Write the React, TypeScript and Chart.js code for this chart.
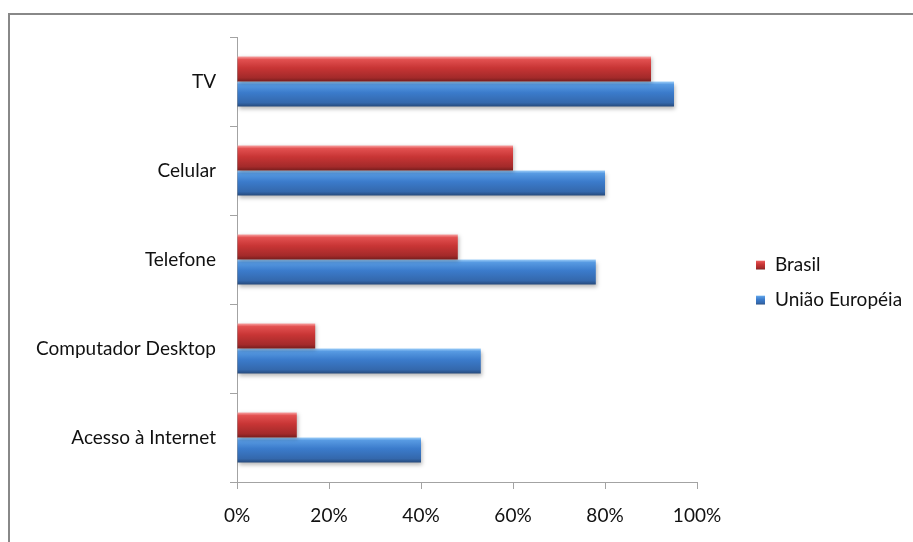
import React, { useEffect, useRef } from "react";
import { Chart, registerables } from "chart.js";

Chart.register(...registerables);

const categories = ["TV", "Celular", "Telefone", "Computador Desktop", "Acesso à Internet"];
const seriesNames = ["Brasil", "União Européia"];
const brasil = [90, 60, 48, 17, 13];
const uniaoEuropeia = [95, 80, 78, 53, 40];
const xTickValues = [0, 20, 40, 60, 80, 100];

const CAT_PCT = 0.56;
const FONT = "Lato, 'Open Sans', sans-serif";
const TEXT = "#111111";
const AXIS = "#a3a3a3";

// [top highlight, upper, middle, lower, bottom edge]
const palettes = [
  ["#f8a0a0", "#e25050", "#c83535", "#a32a2a", "#761d1d"],
  ["#9ccdf8", "#579ae2", "#3b7bcb", "#3468ac", "#264a7c"],
];

function makeGradient(g: CanvasGradient, p: string[]) {
  g.addColorStop(0, p[0]);
  g.addColorStop(0.12, p[1]);
  g.addColorStop(0.45, p[2]);
  g.addColorStop(0.85, p[3]);
  g.addColorStop(1, p[4]);
  return g;
}

function barFill(dsIndex: number) {
  return (ctx: any) => {
    const chart = ctx.chart;
    const y = chart.scales && chart.scales.y;
    if (!y || ctx.type !== "data") return palettes[dsIndex][2];
    const center = y.getPixelForValue(ctx.dataIndex);
    const band = Math.abs(y.getPixelForValue(1) - y.getPixelForValue(0));
    if (!isFinite(center) || !isFinite(band) || band <= 0) return palettes[dsIndex][2];
    const thick = (band * CAT_PCT) / 2;
    const top = center - (band * CAT_PCT) / 2 + dsIndex * thick;
    const g = chart.ctx.createLinearGradient(0, top, 0, top + thick);
    return makeGradient(g, palettes[dsIndex]);
  };
}

const shadowPlugin = {
  id: "barShadow",
  beforeDatasetDraw(chart: any, args: any) {
    const c = chart.ctx;
    c.save();
    c.shadowColor = "rgba(0,0,0,0.28)";
    c.shadowBlur = 4;
    c.shadowOffsetY = args.index === 1 ? 3 : 1;
    c.shadowOffsetX = 1;
  },
  afterDatasetDraw(chart: any) {
    chart.ctx.restore();
  },
};

const legendPlugin = {
  id: "customLegend",
  afterDraw(chart: any) {
    const c = chart.ctx;
    const x = 756;
    const ys = [265, 300];
    c.save();
    chart.data.datasets.forEach((ds: any, i: number) => {
      const cy = ys[i];
      const g = c.createLinearGradient(0, cy - 4.5, 0, cy + 4.5);
      c.fillStyle = makeGradient(g, palettes[i]);
      c.fillRect(x, cy - 4.5, 9, 9);
      c.fillStyle = TEXT;
      c.font = `19px ${FONT}`;
      c.textBaseline = "middle";
      c.textAlign = "left";
      c.fillText(ds.label, x + 19, cy);
    });
    c.restore();
  },
};

export default function App() {
  const ref = useRef<HTMLCanvasElement>(null);

  useEffect(() => {
    if (!ref.current) return;
    const chart = new Chart(ref.current, {
      type: "bar",
      data: {
        labels: categories,
        datasets: [
          {
            label: seriesNames[0],
            data: brasil,
            backgroundColor: barFill(0),
            categoryPercentage: CAT_PCT,
            barPercentage: 1,
          },
          {
            label: seriesNames[1],
            data: uniaoEuropeia,
            backgroundColor: barFill(1),
            categoryPercentage: CAT_PCT,
            barPercentage: 1,
          },
        ],
      },
      options: {
        indexAxis: "y",
        responsive: false,
        animation: false,
        layout: { padding: { top: 37, right: 216, left: 0, bottom: 0 } },
        plugins: {
          legend: { display: false },
          tooltip: { enabled: false },
        },
        scales: {
          x: {
            min: 0,
            max: 100,
            afterBuildTicks: (scale: any) => {
              scale.ticks = xTickValues.map((v) => ({ value: v }));
            },
            afterFit: (scale: any) => {
              scale.height = 60;
            },
            grid: {
              drawOnChartArea: false,
              drawTicks: true,
              tickLength: 7,
              color: AXIS,
            },
            border: { color: AXIS, width: 1 },
            ticks: {
              padding: 15,
              color: TEXT,
              font: { family: FONT, size: 19 },
              callback: (v: any) => `${v}%`,
              maxRotation: 0,
            },
          },
          y: {
            afterFit: (scale: any) => {
              scale.width = 237;
            },
            grid: {
              drawOnChartArea: false,
              drawTicks: true,
              tickLength: 7,
              color: AXIS,
              offset: true,
            },
            border: { color: AXIS, width: 1 },
            ticks: {
              padding: 14,
              color: TEXT,
              font: { family: FONT, size: 19 },
            },
          },
        },
      },
      plugins: [shadowPlugin, legendPlugin],
    });
    chart.update();
    return () => chart.destroy();
  }, []);

  return (
    <div style={{ position: "fixed", left: 0, top: 0, width: 913, height: 542, background: "#fff" }}>
      <div
        style={{
          position: "absolute",
          left: 8,
          top: 13,
          width: 905,
          height: 529,
          borderTop: "2px solid #888",
          borderLeft: "2px solid #888",
          boxSizing: "border-box",
        }}
      />
      <canvas ref={ref} width={913} height={542} style={{ position: "absolute", left: 0, top: 0 }} />
    </div>
  );
}
